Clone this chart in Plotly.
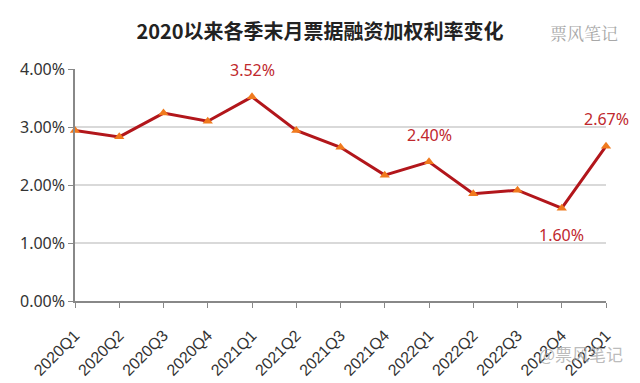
import plotly.graph_objects as go

quarters = ["2020Q1", "2020Q2", "2020Q3", "2020Q4", "2021Q1", "2021Q2", "2021Q3",
            "2021Q4", "2022Q1", "2022Q2", "2022Q3", "2022Q4", "2023Q1"]
rates = [2.94, 2.83, 3.24, 3.10, 3.52, 2.94, 2.65, 2.17, 2.40, 1.85, 1.91, 1.60, 2.67]
labels = ["", "", "", "", "3.52%", "", "", "", "2.40%", "", "", "1.60%", "2.67%"]
label_pos = ["", "", "", "", "top", "", "", "", "top", "", "", "bottom", "top"]
y_ticks = [0, 1, 2, 3, 4]
y_ticktext = ["0.00%", "1.00%", "2.00%", "3.00%", "4.00%"]

xs = list(range(len(quarters)))

fig = go.Figure()
fig.add_trace(go.Scatter(
    x=xs, y=rates, mode="lines+markers",
    line=dict(color="#B2161B", width=3),
    marker=dict(symbol="triangle-up", size=9, color="#F07A1E",
                line=dict(color="#F07A1E", width=0)),
    cliponaxis=False, hoverinfo="skip", showlegend=False,
))

for x, y, t, p in zip(xs, rates, labels, label_pos):
    if t:
        fig.add_annotation(x=x, y=y, text=t, showarrow=False, xref="x", yref="y",
                           yshift=27 if p == "top" else -27,
                           font=dict(family="Noto Sans, Arial", size=16, color="#C0282D"))

fig.update_layout(
    width=640, height=383,
    margin=dict(l=66, r=42, t=61, b=88),
    paper_bgcolor="white", plot_bgcolor="white",
    title=dict(text="<b>2020以来各季末月票据融资加权利率变化</b>",
               x=0.4875, xanchor="center", y=0.937, yanchor="middle",
               font=dict(family="Noto Sans CJK SC", size=20, color="#222222")),
    xaxis=dict(range=[0, 12], tickvals=xs, ticktext=quarters, tickangle=-45,
               showgrid=False, showline=True, linecolor="#888888", linewidth=1.5,
               ticks="outside", ticklen=5, tickcolor="#888888", zeroline=False,
               ticklabelstandoff=12,
               tickfont=dict(family="Liberation Sans, Arial", size=16, color="#333333")),
    yaxis=dict(range=[0, 4], tickvals=y_ticks, ticktext=y_ticktext,
               showgrid=True, gridcolor="#D9D9D9", gridwidth=1.5,
               showline=True, linecolor="#888888", linewidth=1.5,
               ticks="outside", ticklen=5, tickcolor="#888888", zeroline=False,
               tickfont=dict(family="Noto Sans, Arial", size=16, color="#333333")),
)

fig.add_annotation(text="票风笔记", xref="paper", yref="paper", x=1.026, y=1.158,
                   xanchor="right", yanchor="middle", showarrow=False,
                   font=dict(family="Noto Serif CJK SC, Noto Sans CJK SC", size=17, color="#A8A8A8"))
fig.add_annotation(text="@票风笔记", xref="paper", yref="paper", x=1.035, y=-0.226,
                   xanchor="right", yanchor="middle", showarrow=False,
                   font=dict(family="Noto Sans CJK SC", size=17, color="rgba(170,170,170,0.8)"))

fig.write_html("out.html")
